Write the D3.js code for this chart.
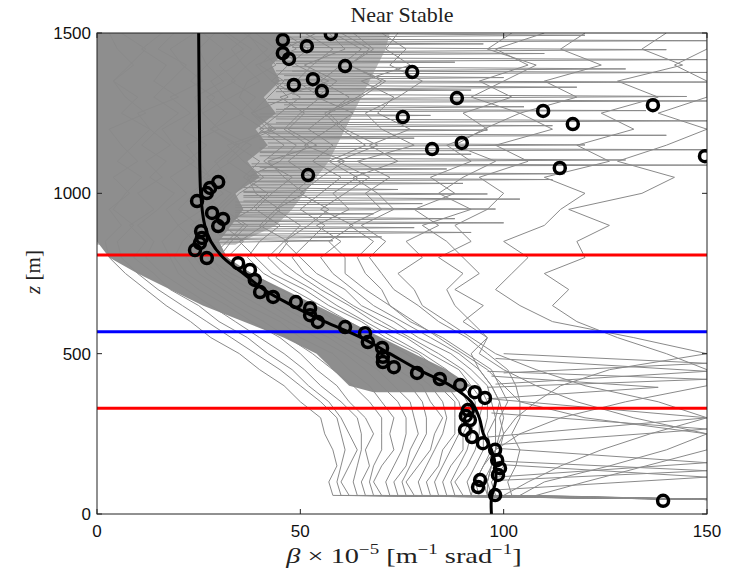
<!DOCTYPE html>
<html>
<head>
<meta charset="utf-8">
<script src="https://cdn.jsdelivr.net/npm/d3@7"></script>
<style>
  body { margin: 0; background: #fff; }
  .tick-label { font-family: "Liberation Sans", Arial, sans-serif; font-size: 17px; fill: #111; }
  .serif { font-family: "Liberation Serif", "DejaVu Serif", serif; fill: #222; }
</style>
</head>
<body>
<svg width="729" height="579"></svg>
<script>
// heights (m) at which each gray profile is sampled
const zLevels = [45, 58, 100, 150, 200, 250, 300, 350, 400, 450, 500, 550, 600, 650, 700, 750,
                 800, 850, 900, 950, 1000, 1050, 1100, 1150, 1200, 1250, 1300, 1350, 1400, 1450, 1500];

// individual backscatter profiles (beta x 1e-5), one row per profile, bottom to top
const grayProfiles = [
  [160, 58, 57, 59, 58, 56, 55, 50, 46, 40, 35, 28, 23, 17, 12, 7, 3, 2, 6, 3, 8, 4, 10, 6, 3, 12, 7, 4, 9, 5, 3],
  [155, 62, 60, 62, 64, 62, 60, 57, 52, 48, 42, 37, 30, 25, 18, 14, 9, 12, 8, 14, 10, 16, 12, 18, 13, 10, 20, 14, 17, 11, 16],
  [158, 66, 65, 67, 66, 68, 66, 62, 59, 54, 50, 45, 38, 32, 25, 20, 18, 16, 20, 17, 22, 18, 24, 19, 16, 23, 18, 26, 21, 18, 24],
  [152, 70, 68, 70, 73, 72, 73, 70, 67, 62, 58, 50, 45, 37, 31, 25, 22, 24, 20, 26, 23, 28, 25, 22, 30, 26, 24, 31, 27, 25, 29],
  [156, 74, 73, 76, 77, 79, 78, 77, 73, 69, 63, 57, 49, 43, 35, 30, 25, 28, 26, 30, 27, 32, 29, 34, 28, 36, 31, 28, 34, 38, 32],
  [150, 78, 76, 79, 82, 83, 85, 82, 80, 74, 69, 61, 55, 47, 41, 33, 27, 24, 29, 26, 31, 27, 33, 38, 30, 26, 33, 40, 36, 33, 38],
  [153, 82, 81, 84, 85, 88, 88, 88, 84, 80, 73, 67, 59, 53, 45, 38, 30, 33, 37, 31, 35, 41, 36, 32, 43, 39, 35, 37, 44, 40, 37],
  [158, 86, 85, 87, 90, 90, 92, 91, 89, 84, 79, 71, 65, 57, 51, 43, 39, 35, 41, 45, 39, 37, 45, 49, 42, 38, 47, 43, 39, 49, 44],
  [150, 90, 88, 91, 93, 94, 94, 95, 92, 89, 82, 76, 68, 62, 55, 49, 44, 47, 40, 44, 51, 46, 42, 54, 47, 51, 45, 57, 49, 46, 54],
  [154, 94, 93, 95, 97, 96, 98, 97, 96, 92, 87, 79, 73, 65, 61, 54, 50, 46, 52, 57, 50, 55, 61, 51, 57, 63, 54, 59, 51, 61, 57],
  [150, 98, 97, 100, 99, 100, 99, 101, 99, 97, 91, 85, 77, 72, 66, 61, 61, 57, 63, 55, 61, 67, 59, 69, 61, 57, 65, 71, 62, 67, 60],
  [155, 102, 101, 103, 104, 102, 104, 104, 103, 101, 96, 91, 84, 79, 73, 70, 67, 71, 65, 73, 69, 63, 74, 67, 77, 69, 73, 65, 77, 71, 74],
  [160, 60, 59, 60, 61, 60, 59, 55, 50, 45, 39, 33, 27, 21, 15, 10, 6, 5, 9, 4, 7, 11, 5, 9, 13, 6, 10, 4, 8, 12, 6],
  [155, 64, 63, 64, 65, 65, 64, 60, 55, 51, 46, 40, 34, 28, 22, 16, 12, 14, 10, 15, 19, 13, 17, 11, 15, 20, 14, 18, 22, 15, 19],
  [158, 68, 67, 68, 70, 70, 70, 67, 63, 58, 53, 47, 41, 34, 28, 22, 19, 21, 25, 20, 24, 28, 22, 27, 21, 25, 29, 23, 27, 31, 26],
  [152, 72, 71, 73, 75, 76, 76, 74, 70, 66, 61, 54, 47, 40, 33, 27, 24, 27, 23, 29, 33, 26, 30, 35, 28, 32, 27, 34, 30, 36, 31],
  [156, 76, 75, 77, 79, 81, 81, 80, 77, 72, 66, 59, 52, 45, 38, 31, 28, 32, 36, 30, 34, 38, 32, 36, 41, 35, 39, 33, 37, 42, 36],
  [150, 80, 79, 81, 83, 85, 86, 85, 82, 77, 71, 64, 57, 50, 43, 36, 32, 36, 31, 38, 42, 36, 40, 34, 44, 38, 42, 46, 40, 44, 39],
  [153, 84, 83, 85, 87, 89, 90, 89, 86, 82, 76, 69, 62, 55, 48, 41, 37, 40, 45, 39, 43, 48, 41, 46, 40, 45, 50, 43, 47, 52, 46],
  [158, 88, 87, 89, 91, 92, 93, 93, 90, 86, 80, 73, 66, 59, 53, 46, 42, 46, 50, 44, 48, 53, 47, 52, 46, 50, 55, 49, 53, 58, 51],
  [150, 92, 91, 93, 95, 95, 96, 96, 94, 90, 84, 77, 70, 63, 57, 51, 48, 52, 56, 50, 55, 60, 53, 58, 52, 57, 62, 55, 60, 65, 58],
  [154, 96, 95, 97, 98, 98, 98, 99, 97, 94, 89, 82, 75, 68, 63, 58, 55, 60, 54, 62, 58, 64, 57, 66, 60, 56, 64, 70, 62, 68, 63],
  [150, 100, 106, 114, 124, 136, 150, 138, 120, 108, 98, 92, 86, 80, 78, 74, 80, 76, 84, 78, 88, 82, 92, 86, 96, 90, 102, 94, 106, 98, 110],
  [150, 108, 120, 135, 150, 150, 132, 118, 108, 100, 94, 96, 92, 88, 86, 90, 84, 92, 88, 96, 100, 94, 106, 98, 112, 104, 118, 110, 124, 114, 120],
  [150, 96, 96, 97, 98, 100, 103, 108, 114, 126, 150, 132, 112, 104, 98, 102, 106, 100, 110, 114, 120, 110, 126, 118, 132, 124, 138, 128, 144, 134, 140],
  [150, 92, 93, 95, 98, 104, 114, 130, 150, 150, 140, 128, 118, 112, 116, 110, 120, 118, 126, 116, 134, 142, 128, 140, 150, 138, 150, 150, 142, 150, 150],
  [150, 97, 96, 97, 98, 99, 100, 99, 97, 94, 92, 96, 90, 95, 88, 94, 90, 86, 80, 92, 84, 90, 98, 88, 95, 104, 92, 100, 108, 96, 102],
  [150, 104, 110, 126, 140, 150, 120, 104, 100, 96, 90, 84, 78, 72, 70, 66, 64, 68, 62, 70, 66, 72, 64, 78, 70, 66, 74, 80, 72, 76, 70]
];

// where the gray profiles overlap into a near-solid band
const denseZ     = [380, 400, 450, 500, 550, 600, 650, 700, 750, 800, 850, 900, 950, 1000, 1050, 1100, 1150, 1200, 1250, 1300, 1350, 1400, 1450, 1500];
const denseLeft  = [68, 62, 58, 54, 46, 36, 26, 18, 10, 3, 0, 0, 0, 0, 0, 0, 0, 0, 0, 0, 0, 0, 0, 0];
const denseRight = [88, 92, 86, 78, 70, 62, 54, 46, 38, 32, 30, 33, 36, 34, 40, 37, 42, 39, 44, 41, 45, 43, 47, 46];

// lighter band where the profiles are many but not solid
const midZ     = [840, 900, 950, 1000, 1050, 1100, 1150, 1200, 1250, 1300, 1350, 1400, 1450, 1500];
const midRight = [34, 44, 48, 51, 54, 57, 59, 61, 63, 65, 67, 69, 71, 72];

// short excursions of single profiles: [z, base beta, tip beta, half height]
const spikes = [
  [1493, 44, 120, 6], [1476, 46, 150, 5], [1466, 44, 95, 4], [1448, 48, 140, 7], [1436, 44, 110, 5],
  [1417, 46, 150, 6], [1409, 44, 88, 4], [1388, 48, 130, 7], [1377, 44, 150, 5], [1361, 46, 100, 6],
  [1347, 44, 150, 4], [1331, 46, 118, 6], [1322, 44, 92, 5], [1302, 48, 145, 7], [1288, 42, 150, 5],
  [1270, 46, 105, 6], [1258, 44, 135, 4], [1243, 40, 82, 5], [1226, 44, 150, 6], [1211, 42, 112, 5],
  [1197, 40, 96, 6], [1181, 42, 140, 5], [1172, 40, 78, 4], [1151, 42, 120, 6], [1136, 40, 150, 5],
  [1122, 40, 92, 5], [1104, 42, 130, 6], [1088, 38, 150, 4], [1076, 40, 86, 5], [1061, 38, 115, 6],
  [1043, 38, 112, 5], [1031, 38, 90, 5], [1012, 36, 74, 6], [998, 36, 96, 5], [982, 36, 104, 6],
  [968, 34, 80, 5], [951, 34, 98, 5], [936, 34, 68, 4], [921, 34, 88, 6], [908, 32, 100, 5],
  [893, 32, 78, 5], [878, 30, 92, 6], [864, 30, 70, 5], [852, 28, 58, 5],
  [470, 100, 150, 30], [445, 98, 150, 40], [420, 96, 150, 25], [395, 97, 138, 35],
  [300, 96, 150, 60], [265, 97, 150, 50], [160, 98, 150, 45], [135, 99, 150, 30], [115, 98, 150, 40]
];

// mean profile
const meanZ    = [0, 50, 100, 150, 200, 250, 300, 350, 400, 450, 500, 550, 600, 650, 700, 750, 800, 850, 900, 1000, 1200, 1500];
const meanBeta = [97, 97, 98, 98, 97, 95, 94, 92, 87, 79, 72, 65, 56, 48, 41, 36, 31, 28, 26.5, 25.5, 25.2, 25];

// black circles
const obsBeta = [45.7, 51.6, 57.5, 45.7, 47.2, 61.0, 77.5, 48.4, 53.1, 55.3, 75.2, 51.9, 88.5, 109.7, 117.0, 136.7,
                 82.4, 89.7, 113.8, 149.5, 29.8, 27.8, 27.0, 24.6, 28.3, 31.0, 29.8, 25.6, 25.8, 25.3, 24.1, 27.0,
                 34.7, 37.6, 38.8, 40.1, 43.3, 48.9, 52.4, 52.4, 54.3, 61.0, 65.9, 66.6, 70.1, 70.3, 70.3, 73.0,
                 78.7, 84.3, 89.3, 92.9, 95.4, 91.2, 90.7, 91.7, 90.5, 92.2, 94.9, 97.9, 98.4, 99.1, 98.6, 94.2,
                 93.7, 97.9, 139.2];
const obsZ    = [1478, 1459, 1497, 1437, 1419, 1397, 1378, 1338, 1356, 1319, 1238, 1057, 1297, 1257, 1216, 1275,
                 1138, 1157, 1079, 1116, 1035, 1017, 1001, 976, 939, 920, 898, 882, 861, 845, 823, 798,
                 782, 761, 730, 692, 677, 661, 642, 620, 599, 583, 564, 536, 518, 490, 474, 458,
                 440, 421, 402, 380, 362, 324, 306, 293, 262, 240, 221, 200, 168, 143, 122, 106,
                 84, 59, 41];

const redZ = [330, 808];
const blueZ = [568];

const xTicks = [0, 50, 100, 150];
const zTicks = [0, 500, 1000, 1500];

const svg = d3.select("svg");
const pLeft = 97, pRight = 707, pTop = 33, pBottom = 514;

const x = d3.scaleLinear().domain([0, 150]).range([pLeft, pRight]);
const y = d3.scaleLinear().domain([0, 1500]).range([pBottom, pTop]);

svg.append("clipPath").attr("id", "clip")
  .append("rect")
  .attr("x", pLeft).attr("y", pTop)
  .attr("width", pRight - pLeft).attr("height", pBottom - pTop);

const plot = svg.append("g").attr("clip-path", "url(#clip)");
const gray = "#8a8a8a";

// lighter band, then the solid band over it
plot.append("path")
  .attr("d", d3.area()
    .y(i => y(midZ[i]))
    .x0(x(0))
    .x1(i => x(midRight[i]))(d3.range(midZ.length)))
  .attr("fill", "#bdbdbd");

plot.append("path")
  .attr("d", d3.area()
    .y(i => y(denseZ[i]))
    .x0(i => x(denseLeft[i]))
    .x1(i => x(denseRight[i]))(d3.range(denseZ.length)))
  .attr("fill", "#8e8e8e");

// profiles
const profLine = d3.line()
  .x(d => x(d[0]))
  .y(d => y(d[1]));
plot.selectAll(".prof")
  .data(grayProfiles)
  .enter().append("path")
  .attr("class", "prof")
  .attr("d", p => profLine(p.map((b, i) => [b, zLevels[i]])))
  .attr("fill", "none")
  .attr("stroke", gray)
  .attr("stroke-width", 1);

plot.selectAll(".spike")
  .data(spikes)
  .enter().append("path")
  .attr("class", "spike")
  .attr("d", s => profLine([[s[1], s[0] - s[3]], [s[2], s[0]], [s[1], s[0] + s[3]]]))
  .attr("fill", "none")
  .attr("stroke", gray)
  .attr("stroke-width", 1);

// layer heights
plot.selectAll(".red")
  .data(redZ)
  .enter().append("line")
  .attr("x1", pLeft).attr("x2", pRight)
  .attr("y1", d => y(d)).attr("y2", d => y(d))
  .attr("stroke", "#ff0000")
  .attr("stroke-width", 3);

plot.selectAll(".blue")
  .data(blueZ)
  .enter().append("line")
  .attr("x1", pLeft).attr("x2", pRight)
  .attr("y1", d => y(d)).attr("y2", d => y(d))
  .attr("stroke", "#0000ff")
  .attr("stroke-width", 3);

// mean
plot.append("path")
  .attr("d", d3.line()
    .x(i => x(meanBeta[i]))
    .y(i => y(meanZ[i]))
    .curve(d3.curveCatmullRom)(d3.range(meanZ.length)))
  .attr("fill", "none")
  .attr("stroke", "#000")
  .attr("stroke-width", 3);

plot.selectAll(".obs")
  .data(obsBeta)
  .enter().append("circle")
  .attr("cx", d => x(d))
  .attr("cy", (d, i) => y(obsZ[i]))
  .attr("r", 5.5)
  .attr("fill", "none")
  .attr("stroke", "#000")
  .attr("stroke-width", 3.5);

// box + inward ticks
svg.append("rect")
  .attr("x", pLeft).attr("y", pTop)
  .attr("width", pRight - pLeft).attr("height", pBottom - pTop)
  .attr("fill", "none")
  .attr("stroke", "#222")
  .attr("stroke-width", 1);

const tickLen = 5;
xTicks.forEach(t => {
  svg.append("line").attr("x1", x(t)).attr("x2", x(t)).attr("y1", pBottom).attr("y2", pBottom - tickLen).attr("stroke", "#222");
  svg.append("line").attr("x1", x(t)).attr("x2", x(t)).attr("y1", pTop).attr("y2", pTop + tickLen).attr("stroke", "#222");
  svg.append("text").attr("class", "tick-label")
    .attr("x", x(t)).attr("y", 537)
    .attr("text-anchor", "middle")
    .text(t);
});
zTicks.forEach(t => {
  svg.append("line").attr("x1", pLeft).attr("x2", pLeft + tickLen).attr("y1", y(t)).attr("y2", y(t)).attr("stroke", "#222");
  svg.append("line").attr("x1", pRight).attr("x2", pRight - tickLen).attr("y1", y(t)).attr("y2", y(t)).attr("stroke", "#222");
  svg.append("text").attr("class", "tick-label")
    .attr("x", 91).attr("y", y(t) + 6)
    .attr("text-anchor", "end")
    .text(t);
});

// title
svg.append("text").attr("class", "serif")
  .attr("x", 402).attr("y", 22)
  .attr("text-anchor", "middle")
  .style("font-size", "22px")
  .text("Near Stable");

// x label (stretched a little, as in the original)
const xl = svg.append("text").attr("class", "serif")
  .attr("transform", "translate(404,563) scale(1.35,1)")
  .attr("text-anchor", "middle")
  .style("font-size", "21px");
xl.append("tspan").style("font-style", "italic").text("β");
xl.append("tspan").text(" × 10");
xl.append("tspan").attr("dy", -9).style("font-size", "14px").text("−5");
xl.append("tspan").attr("dy", 9).text(" [m");
xl.append("tspan").attr("dy", -9).style("font-size", "14px").text("−1");
xl.append("tspan").attr("dy", 9).text(" srad");
xl.append("tspan").attr("dy", -9).style("font-size", "14px").text("−1");
xl.append("tspan").attr("dy", 9).text("]");

// y label
const yl = svg.append("text").attr("class", "serif")
  .attr("transform", "translate(40,272) rotate(-90)")
  .attr("text-anchor", "middle")
  .style("font-size", "21px");
yl.append("tspan").style("font-style", "italic").text("z");
yl.append("tspan").text(" [m]");
</script>
</body>
</html>
